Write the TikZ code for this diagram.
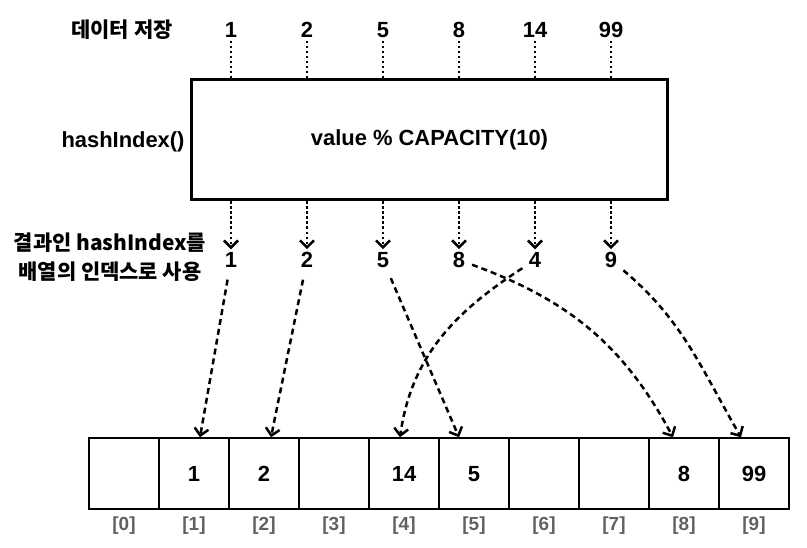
\documentclass[tikz,border=0pt]{standalone}
\usepackage{fontspec}
\setmainfont{Liberation Sans}
\newfontfamily\krfont{Noto Sans CJK KR}
\usepackage{tikz}
\usetikzlibrary{arrows.meta}
\tikzstyle{num}=[font=\fontsize{22}{26}\selectfont\bfseries, inner sep=3bp]
\tikzstyle{krtext}=[font=\krfont\bfseries\fontsize{21}{29}\selectfont, align=center, inner sep=0]
\tikzstyle{hashbox}=[draw, line width=3bp, minimum width=475bp, minimum height=120bp, font=\fontsize{22}{26}\selectfont\bfseries]
\tikzstyle{cell}=[draw, line width=1.5bp, minimum width=70bp, minimum height=71bp, inner sep=0, text height=16bp, text depth=0bp, font=\fontsize{22}{26}\selectfont\bfseries]
\tikzstyle{idx}=[font=\fontsize{19}{21}\selectfont\bfseries, text=black!62]
\tikzstyle{dotline}=[line width=2.5bp, dash pattern=on 2.5bp off 2.5bp]
\tikzstyle{dotarrow}=[dotline, -{Straight Barb[length=7bp,width=14bp]}]
\tikzstyle{dasharrow}=[line width=2.5bp, dash pattern=on 6bp off 4bp, -{Straight Barb[length=7bp,width=14bp]}, shorten <=4bp]

\begin{document}
\begin{tikzpicture}[x=1bp, y=1bp]
		   \useasboundingbox (0,0) rectangle (807,-548);
		   \begin{scope}
			   \node (store) at (122, -30)[krtext] {데이터 저장};
			   \node (v1) at (231, -30)[num] {1};
			   \node (v2) at (307, -30)[num] {2};
			   \node (v3) at (383, -30)[num] {5};
			   \node (v4) at (459, -30)[num] {8};
			   \node (v5) at (535, -30)[num] {14};
			   \node (v6) at (611, -30)[num] {99};

			   \node (fn) at (123, -142)[num] {hashIndex()};
			   \node (hash) at (429.5, -140)[hashbox] {value \% CAPACITY(10)};

			   \node (use) at (110, -257)[krtext] {결과인 hashIndex를\\배열의 인덱스로 사용};
			   \node (h1) at (231, -260)[num] {1};
			   \node (h2) at (307, -260)[num] {2};
			   \node (h3) at (383, -260)[num] {5};
			   \node (h4) at (459, -260)[num] {8};
			   \node (h5) at (535, -260)[num] {4};
			   \node (h6) at (611, -260)[num] {9};

			   \node (a0) at (124, -473.5)[cell] {};
			   \node (a1) at (194, -473.5)[cell] {1};
			   \node (a2) at (264, -473.5)[cell] {2};
			   \node (a3) at (334, -473.5)[cell] {};
			   \node (a4) at (404, -473.5)[cell] {14};
			   \node (a5) at (474, -473.5)[cell] {5};
			   \node (a6) at (544, -473.5)[cell] {};
			   \node (a7) at (614, -473.5)[cell] {};
			   \node (a8) at (684, -473.5)[cell] {8};
			   \node (a9) at (754, -473.5)[cell] {99};

			   \node (i0) at (124, -526)[idx] {[0]};
			   \node (i1) at (194, -526)[idx] {[1]};
			   \node (i2) at (264, -526)[idx] {[2]};
			   \node (i3) at (334, -526)[idx] {[3]};
			   \node (i4) at (404, -526)[idx] {[4]};
			   \node (i5) at (474, -526)[idx] {[5]};
			   \node (i6) at (544, -526)[idx] {[6]};
			   \node (i7) at (614, -526)[idx] {[7]};
			   \node (i8) at (684, -526)[idx] {[8]};
			   \node (i9) at (754, -526)[idx] {[9]};
		   \end{scope}
		   \begin{scope}
			   % values into the hash function
			   \draw [dotline] (v1.south) -- (v1.south |- hash.north);
			   \draw [dotline] (v2.south) -- (v2.south |- hash.north);
			   \draw [dotline] (v3.south) -- (v3.south |- hash.north);
			   \draw [dotline] (v4.south) -- (v4.south |- hash.north);
			   \draw [dotline] (v5.south) -- (v5.south |- hash.north);
			   \draw [dotline] (v6.south) -- (v6.south |- hash.north);

			   \draw [dotarrow] (h1.north |- hash.south) -- (h1.north);
			   \draw [dotarrow] (h2.north |- hash.south) -- (h2.north);
			   \draw [dotarrow] (h3.north |- hash.south) -- (h3.north);
			   \draw [dotarrow] (h4.north |- hash.south) -- (h4.north);
			   \draw [dotarrow] (h5.north |- hash.south) -- (h5.north);
			   \draw [dotarrow] (h6.north |- hash.south) -- (h6.north);

			   % hash index into the array
			   \draw [dasharrow, shorten <=9bp] (h1) -- ([xshift=6bp]a1.north);
			   \draw [dasharrow, shorten <=9bp] (h2) -- ([xshift=7bp]a2.north);
			   \draw [dasharrow, shorten <=8bp] (h3) -- ([xshift=-15bp]a5.north);
			   \draw [dasharrow] (h4) to[out=-20, in=118] ([xshift=-11bp]a8.north);
			   \draw [dasharrow] (h5) to[out=-147, in=82] ([xshift=-4bp]a4.north);
			   \draw [dasharrow] (h6) to[out=-40, in=120] ([xshift=-13bp]a9.north);
		   \end{scope}
	   \end{tikzpicture}
\end{document}
